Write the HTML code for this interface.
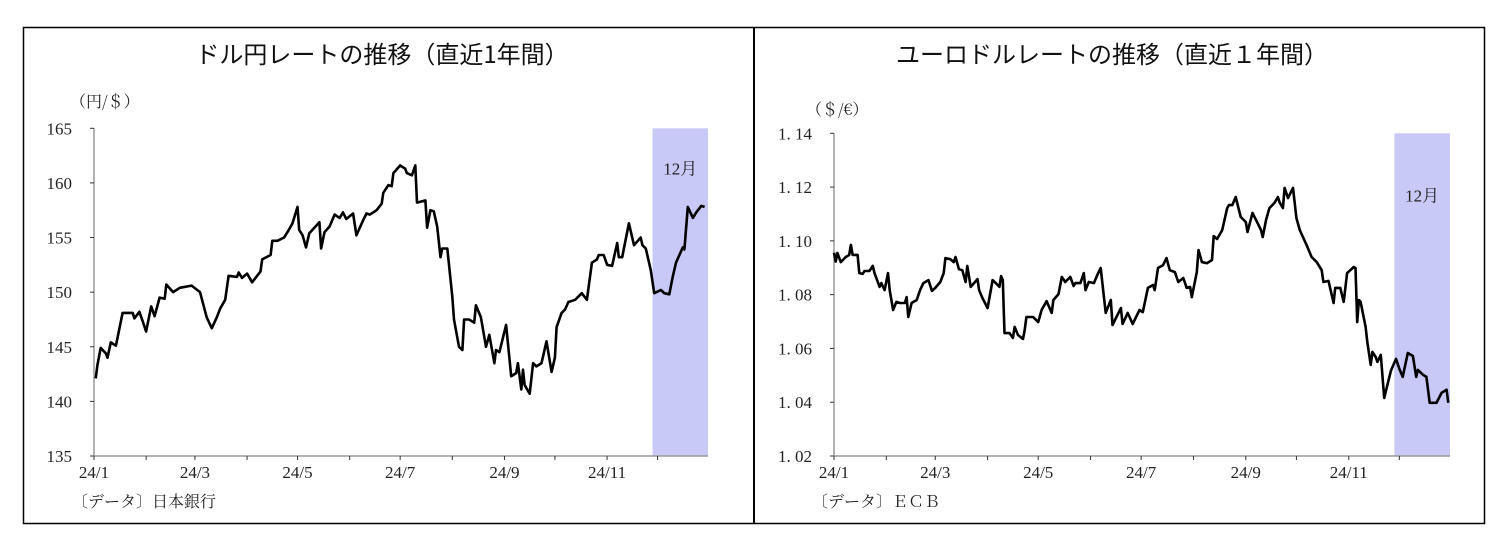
<!DOCTYPE html>
<html><head><meta charset="utf-8"><style>
html,body{margin:0;padding:0;background:#fff;}
svg{display:block;}
.t{font-family:"Noto Sans CJK JP","Liberation Sans",sans-serif;font-size:24px;fill:#111;}
.s{font-family:"Liberation Serif","Noto Serif CJK SC",serif;font-size:17px;fill:#222;}
.u{font-family:"Noto Serif CJK SC","Liberation Serif",serif;font-size:16px;fill:#222;}
</style></head><body>
<svg id="root" width="1508" height="552" viewBox="0 0 1508 552" xmlns="http://www.w3.org/2000/svg">
<rect x="23.5" y="27.5" width="1461" height="496" fill="none" stroke="#000" stroke-width="1.5"/>
<line x1="754" y1="27" x2="754" y2="524" stroke="#000" stroke-width="2"/>
<text class="t" x="382" y="63" text-anchor="middle">ドル円レートの推移（直近1年間）</text>
<text class="t" x="1112" y="63" text-anchor="middle">ユーロドルレートの推移（直近１年間）</text>
<text class="u" x="70" y="107">（円/＄）</text>
<text class="u" x="806" y="115">（＄/€）</text>
<text class="u" x="72" y="507">〔データ〕日本銀行</text>
<text class="u" x="812" y="507">〔データ〕ＥＣＢ</text>
<g id="left"></g>
<g id="right"></g>
</svg>
<script>
const jpyDays=[1,2,4,7,8,10,13,17,23,24,27,29,31,34,36,39,42,43,47,51,58,63,67,70,73,75,78,80,85,86,88,91,94,99,100,105,106,109,113,115,118,121,122,124,126,128,134,135,137,140,143,146,148,150,154,156,160,162,164,168,171,172,175,177,178,182,185,186,189,191,192,197,198,200,202,204,206,207,210,213,214,217,219,220,223,226,227,230,233,235,238,239,241,245,248,251,252,254,255,256,259,261,263,266,269,272,274,275,278,280,282,286,290,293,296,299,300,303,305,308,311,312,314,318,321,325,326,328,331,333,337,339,342,344,346,350,351,353,356,358,361,363];
const jpyValues=[142.1,143.3,144.9,144.4,144.0,145.4,145.1,148.1,148.1,147.6,148.2,147.3,146.4,148.7,147.8,149.5,149.4,150.7,150.0,150.4,150.6,150.0,147.7,146.7,147.7,148.5,149.3,151.5,151.4,151.8,151.3,151.7,150.9,151.9,153.0,153.4,154.7,154.7,155.0,155.5,156.3,157.8,155.7,155.2,154.1,155.4,156.4,154.0,155.5,156.0,157.1,156.8,157.3,156.7,157.2,155.2,156.6,157.2,157.1,157.5,158.1,159.1,159.8,159.7,160.9,161.6,161.3,160.9,160.7,161.6,158.2,158.4,155.9,157.5,157.4,156.0,153.2,154.0,154.0,149.6,147.5,145.0,144.7,147.5,147.5,147.2,148.8,147.7,145.0,146.1,143.5,144.7,144.5,147.0,142.3,142.6,143.5,141.1,142.9,141.5,140.7,143.5,143.2,143.5,145.5,142.7,144.0,146.8,148.1,148.4,149.1,149.3,149.9,149.3,152.7,153.0,153.4,153.4,152.5,152.4,154.5,153.2,153.2,156.3,154.3,155.0,154.3,154.0,152.0,149.9,150.2,149.9,149.8,151.4,152.7,154.1,153.9,157.8,156.8,157.3,157.9,157.8];
const jpyTicks=[135,140,145,150,155,160,165];
const eurDays=[0,1,2,4,7,9,10,11,14,15,17,18,21,23,24,27,28,30,32,33,35,37,39,42,43,44,46,49,51,53,56,58,60,63,65,66,69,71,72,74,76,78,79,81,82,85,86,88,91,94,97,98,99,100,101,104,106,107,109,112,113,114,118,121,123,126,129,130,133,135,137,140,142,143,146,148,149,151,154,156,158,161,164,165,170,171,174,177,181,183,186,189,190,192,195,197,199,202,204,207,209,211,212,215,216,218,221,224,225,227,230,233,234,236,238,241,244,245,248,251,253,254,256,258,261,263,264,266,267,269,272,274,276,280,283,286,289,290,293,296,297,300,302,304,308,309,310,311,312,315,316,318,319,321,322,324,326,330,333,335,337,340,343,345,346,349,351,353,357,360,363,364];
const eurValues=[1.0956,1.0923,1.0955,1.0921,1.0940,1.0948,1.0985,1.0948,1.0948,1.0880,1.0877,1.0888,1.0888,1.0907,1.0880,1.0829,1.0843,1.0817,1.0880,1.0817,1.0743,1.0773,1.0769,1.0769,1.0791,1.0717,1.0769,1.0780,1.0817,1.0843,1.0854,1.0814,1.0825,1.0847,1.0880,1.0936,1.0932,1.0921,1.0940,1.0895,1.0891,1.0847,1.0907,1.0829,1.0836,1.0858,1.0817,1.0787,1.0750,1.0854,1.0836,1.0829,1.0869,1.0854,1.0657,1.0657,1.0639,1.0680,1.0650,1.0635,1.0669,1.0717,1.0717,1.0698,1.0743,1.0776,1.0732,1.0780,1.0802,1.0866,1.0847,1.0866,1.0832,1.0843,1.0843,1.0880,1.0817,1.0847,1.0843,1.0873,1.0899,1.0732,1.0780,1.0687,1.0750,1.0691,1.0732,1.0691,1.0743,1.0735,1.0825,1.0836,1.0817,1.0899,1.0910,1.0936,1.0891,1.0884,1.0847,1.0862,1.0825,1.0829,1.0791,1.0884,1.0966,1.0921,1.0917,1.0929,1.1018,1.1007,1.1040,1.1122,1.1133,1.1133,1.1163,1.1089,1.1070,1.1033,1.1104,1.1066,1.1040,1.1014,1.1077,1.1122,1.1141,1.1163,1.1144,1.1122,1.1197,1.1159,1.1197,1.1085,1.1040,1.0985,1.0940,1.0921,1.0891,1.0847,1.0851,1.0769,1.0825,1.0825,1.0773,1.0880,1.0903,1.0899,1.0698,1.0780,1.0773,1.0680,1.0624,1.0539,1.0587,1.0568,1.0550,1.0576,1.0416,1.0517,1.0561,1.0524,1.0494,1.0583,1.0572,1.0494,1.0520,1.0502,1.0494,1.0398,1.0398,1.0435,1.0446,1.0398];
const eurTicks=[1.02,1.04,1.06,1.08,1.10,1.12,1.14];
const eurTickLabels=["1. 02","1. 04","1. 06","1. 08","1. 10","1. 12","1. 14"];
const monthStarts=[0,31,60,91,121,152,182,213,244,274,305,335,366];
const monthLabels=["24/1","","24/3","","24/5","","24/7","","24/9","","24/11","",""];
const NS="http://www.w3.org/2000/svg";
function mk(tag,attrs,parent){const e=document.createElementNS(NS,tag);for(const k in attrs)e.setAttribute(k,attrs[k]);parent.appendChild(e);return e;}
function draw(g,o){
  const x=d=>o.x0+d*(o.x1-o.x0)/365;
  const y=v=>o.y1-(v-o.vmin)*(o.y1-o.y0)/(o.vmax-o.vmin);
  const sh=mk('rect',{x:x(335)-5,y:y(o.vmax),width:o.x1-x(335)+5,height:y(o.vmin)-y(o.vmax),fill:'#c9c9f7'},g);
  
  
  const st=mk('text',{x:(x(335)-5+o.x1)/2,y:y(o.vmax)+o.lblDy,'text-anchor':'middle',class:'s','font-size':'13'},g);
  st.textContent='12月';
  
  
  const ya=mk('line',{x1:o.x0,y1:y(o.vmax),x2:o.x0,y2:y(o.vmin),stroke:'#999','stroke-width':1.5},g);
  
  
  const xa=mk('line',{x1:o.x0,y1:y(o.vmin),x2:o.x1,y2:y(o.vmin),stroke:'#999','stroke-width':1.5},g);
  
  
  o.ticks.forEach((v,i)=>{
    const tk=mk('line',{x1:o.x0-4,y1:y(v),x2:o.x0,y2:y(v),stroke:'#333','stroke-width':1},g);
    
    
    const t=mk('text',{x:o.x0-22,y:y(v)+6,'text-anchor':'end',class:'s'},g);
    t.textContent=o.tickLabels?o.tickLabels[i]:String(v);
    
    
  });
  monthStarts.forEach((d,i)=>{
    if(d>365)return;
    const tk=mk('line',{x1:x(d),y1:y(o.vmin),x2:x(d),y2:y(o.vmin)+4,stroke:'#333','stroke-width':1},g);
    
    
    if(monthLabels[i]){
      const t=mk('text',{x:x(d),y:y(o.vmin)+22,'text-anchor':'middle',class:'s'},g);
      t.textContent=monthLabels[i];
      
      
    }
  });
  const pts=o.days.map((d,i)=>x(d).toFixed(1)+','+y(o.vals[i]).toFixed(1)).join(' ');
  const pl=mk('polyline',{points:pts,fill:'none',stroke:'#000','stroke-width':2.6,'stroke-linejoin':'round'},g);
  
  
}
draw(document.getElementById('left'),{x0:94,x1:708,y0:128.3,y1:456,vmin:135,vmax:165,ticks:jpyTicks,days:jpyDays,vals:jpyValues,name:'usdjpy-line',lblDy:46});
draw(document.getElementById('right'),{x0:834,x1:1450,y0:133.3,y1:456,vmin:1.02,vmax:1.14,ticks:eurTicks,tickLabels:eurTickLabels,days:eurDays,vals:eurValues,name:'eurusd-line',lblDy:68});
</script>
</body></html>
